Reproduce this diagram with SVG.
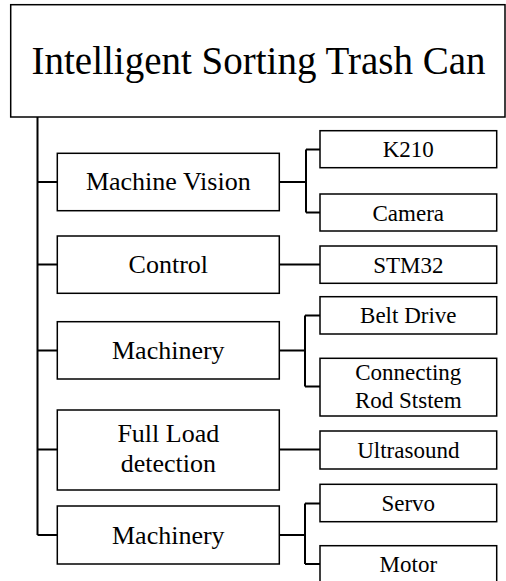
<svg xmlns="http://www.w3.org/2000/svg" width="506" height="581" viewBox="0 0 506 581">
<style>
.b{fill:#fff;stroke:#000;stroke-width:1.5}
text{font-family:'Liberation Serif','Times New Roman',Tinos,'DejaVu Serif',serif;fill:#000;text-anchor:middle}
.l1{font-size:26px}
.l2{font-size:23px}
.c{fill:none;stroke:#000;stroke-width:2}
</style>
<rect width="506" height="581" fill="#fff"/>
<g id="connectors">
<path class="c" d="M37.5 117V535M37.5 182H57M37.5 264.5H57M37.5 350.5H57M37.5 449.5H57M37.5 535H57"/>
<path class="c" d="M279 182H306M306 149.5V212.5M306 149.5H320M306 212.5H320"/>
<path class="c" d="M279 264.5H320"/>
<path class="c" d="M279 350.5H305M305 315.5V386.5M305 315.5H320M305 386.5H320"/>
<path class="c" d="M279 449.5H320"/>
<path class="c" d="M279 535H305M305 503.5V564M305 503.5H320M305 564H320"/>
</g>
<g id="root"><rect class="b" x="10.7" y="4.7" width="494.3" height="112.3"/><text x="258.5" y="74" font-size="39">Intelligent Sorting Trash Can</text></g>
<g id="vision"><rect class="b" x="57.3" y="153.3" width="222" height="57.4"/><text class="l1" x="168.3" y="190">Machine Vision</text></g>
<g id="control"><rect class="b" x="57.3" y="236" width="222" height="57.3"/><text class="l1" x="168.3" y="273.3">Control</text></g>
<g id="machinery1"><rect class="b" x="57.3" y="321.7" width="222" height="57.3"/><text class="l1" x="168.3" y="359">Machinery</text></g>
<g id="fullload"><rect class="b" x="57.3" y="410" width="222" height="80"/><text class="l1" x="168.3" y="441.7">Full Load</text><text class="l1" x="168.3" y="471.7">detection</text></g>
<g id="machinery2"><rect class="b" x="57.3" y="506" width="222" height="58"/><text class="l1" x="168.3" y="543.5">Machinery</text></g>
<g id="k210"><rect class="b" x="320" y="130.7" width="176.7" height="37"/><text class="l2" x="408.3" y="157">K210</text></g>
<g id="camera"><rect class="b" x="320" y="194" width="176.7" height="37"/><text class="l2" x="408.3" y="220.5">Camera</text></g>
<g id="stm32"><rect class="b" x="320" y="246" width="176.7" height="37.3"/><text class="l2" x="408.3" y="272.7">STM32</text></g>
<g id="belt"><rect class="b" x="320" y="296.7" width="176.7" height="37.3"/><text class="l2" x="408.3" y="323.3">Belt Drive</text></g>
<g id="rod"><rect class="b" x="320" y="358.3" width="176.7" height="57.7"/><text class="l2" x="408.3" y="380">Connecting</text><text class="l2" x="408.3" y="408">Rod Ststem</text></g>
<g id="ultrasound"><rect class="b" x="320" y="431" width="176.7" height="38"/><text class="l2" x="408.3" y="458">Ultrasound</text></g>
<g id="servo"><rect class="b" x="320" y="484.3" width="176.7" height="37.4"/><text class="l2" x="408.3" y="511">Servo</text></g>
<g id="motor"><rect class="b" x="320" y="545.7" width="176.7" height="45"/><text class="l2" x="408.3" y="572">Motor</text></g>
</svg>
